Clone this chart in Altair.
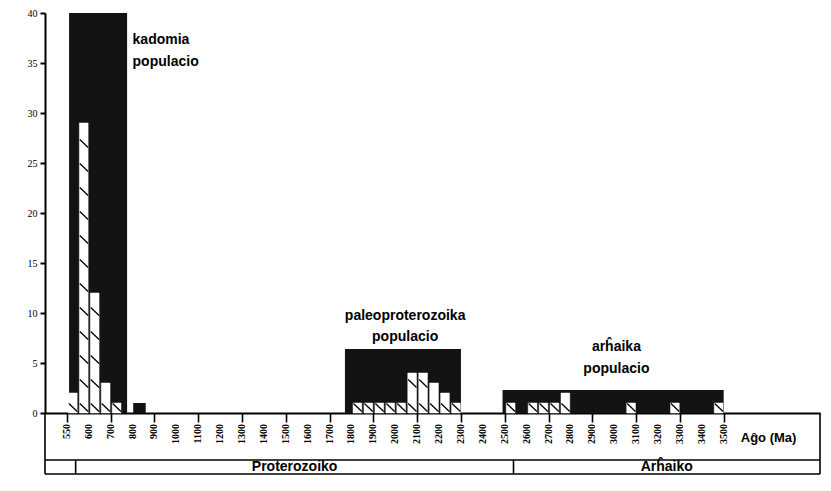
import altair as alt
import pandas as pd

# ---------------- data ----------------
tick_labels = ["550", "600", "700", "800", "900", "1000", "1100", "1200", "1300",
               "1400", "1500", "1600", "1700", "1800", "1900", "2000", "2100",
               "2200", "2300", "2400", "2500", "2600", "2700", "2800", "2900",
               "3000", "3100", "3200", "3300", "3400", "3500"]

# histogram (white, hatched) bars: bin start (Ma) and count
white_start = [550, 575, 600, 650, 700,
               1800, 1850, 1900, 1950, 2000, 2050, 2100, 2150, 2200, 2250,
               2500, 2600, 2650, 2700, 2750, 3050, 3250, 3450]
white_count = [2, 29, 12, 3, 1,
               1, 1, 1, 1, 1, 4, 4, 3, 2, 1,
               1, 1, 1, 1, 2, 1, 1, 1]

# dark bar
dark_start = [800]
dark_count = [1]

# population envelopes
pop_line1 = ["kadomia", "paleoproterozoika", "arĥaika"]
pop_line2 = ["populacio", "populacio", "populacio"]
pop_from = [555, 1770, 2490]
pop_to = [775, 2300, 3500]
pop_top = [40, 6.4, 2.3]

# geological eras (cell boundaries in Ma)
era_names = ["Proterozoiko", "Arĥaiko"]
era_from = [570, 2540]

axis_title = "Aĝo (Ma)"

# ---------------- helpers ----------------
X_MIN, X_MAX = -1.0, 34.4


def pos(ma):
    """axis position: 550 at 0, 600 at 1, then one unit per 100 Ma"""
    return (ma - 550) / 50 if ma < 600 else (ma - 500) / 100


env = pd.DataFrame({
    "x0": [pos(a) for a in pop_from],
    "x1": [pos(b) for b in pop_to],
    "top": pop_top,
})

bars = pd.DataFrame({
    "x0": [pos(s) + 0.07 for s in white_start],
    "x1": [pos(s) + 0.47 for s in white_start],
    "n": white_count,
})

hatch_rows = []
for x0, x1, n in zip(bars["x0"], bars["x1"], bars["n"]):
    h = 0.15
    while h + 0.8 <= n + 0.05:
        hatch_rows.append({"hx0": x0 + 0.02, "hx1": x1, "hy0": h + 0.8, "hy1": h})
        h += 2.4
hatch = pd.DataFrame(hatch_rows)

dark = pd.DataFrame({
    "x0": [pos(s) + 0.03 for s in dark_start],
    "x1": [pos(s) + 0.6 for s in dark_start],
    "n": dark_count,
})

ticks_df = pd.DataFrame({"label": tick_labels, "x": list(range(len(tick_labels)))})

xscale = alt.Scale(domain=[X_MIN, X_MAX], nice=False, zero=False)
yscale = alt.Scale(domain=[0, 40], nice=False, zero=True)

x_axis = alt.Axis(values=[i * 0.5 for i in range(0, 61)], labels=False,
                  tickColor="black", tickWidth=1.6, tickSize=9,
                  domainColor="black", domainWidth=2.2, grid=False)
y_axis = alt.Axis(values=list(range(0, 41, 5)), labelFont="Liberation Serif",
                  labelFontSize=10, labelColor="black", tickColor="black",
                  tickWidth=2, tickSize=5, domainColor="black", domainWidth=2,
                  labelPadding=3, grid=False)

envelopes = alt.Chart(env).mark_rect(color="#131313").encode(
    x=alt.X("x0:Q", scale=xscale, axis=x_axis, title=None),
    x2="x1:Q",
    y=alt.Y("top:Q", scale=yscale, axis=y_axis, title=None),
    y2=alt.datum(0),
)

white = alt.Chart(bars).mark_rect(fill="white", stroke="white", strokeWidth=0.5).encode(
    x=alt.X("x0:Q", scale=xscale),
    x2="x1:Q",
    y=alt.Y("n:Q", scale=yscale),
    y2=alt.datum(0),
)

hatch_layer = alt.Chart(hatch).mark_rule(color="black", strokeWidth=1.3).encode(
    x=alt.X("hx0:Q", scale=xscale),
    x2="hx1:Q",
    y=alt.Y("hy0:Q", scale=yscale),
    y2="hy1:Q",
)

dark_layer = alt.Chart(dark).mark_rect(color="#111111").encode(
    x=alt.X("x0:Q", scale=xscale),
    x2="x1:Q",
    y=alt.Y("n:Q", scale=yscale),
    y2=alt.datum(0),
)

# rotated tick labels of the age axis
tick_text = alt.Chart(ticks_df).mark_text(
    angle=270, align="right", baseline="middle", font="Liberation Serif",
    fontSize=10, fontWeight="bold", color="black").encode(
    x=alt.X("x:Q", scale=xscale), y=alt.datum(-1.1), text="label:N")

# population labels
lab = pd.DataFrame({
    "text": [pop_line1[0], pop_line2[0], pop_line1[1], pop_line2[1], pop_line1[2], pop_line2[2]],
    "x": [3.0, 3.0, 15.45, 15.45, 25.1, 25.1],
    "y": [37.3, 35.1, 9.7, 7.6, 6.6, 4.4],
    "align": ["left", "left", "center", "center", "center", "center"],
})
lab_left = alt.Chart(lab[lab["align"] == "left"]).mark_text(
    align="left", baseline="middle", font="Liberation Sans", fontSize=14,
    fontWeight="bold", color="black").encode(
    x=alt.X("x:Q", scale=xscale), y=alt.Y("y:Q", scale=yscale), text="text:N")
lab_center = alt.Chart(lab[lab["align"] == "center"]).mark_text(
    align="center", baseline="middle", font="Liberation Sans", fontSize=14,
    fontWeight="bold", color="black").encode(
    x=alt.X("x:Q", scale=xscale), y=alt.Y("y:Q", scale=yscale), text="text:N")

# table of eras below the axis
ROW_TOP, ROW_BOT = -4.7, -6.1
edges = [X_MIN, pos(era_from[0]), pos(era_from[1]), X_MAX]
hlines = pd.DataFrame({"a": [X_MIN, X_MIN], "b": [X_MAX, X_MAX], "y": [ROW_TOP, ROW_BOT]})
vlines = pd.DataFrame({
    "x": edges,
    "y0": [0, ROW_TOP, ROW_TOP, 0],
    "y1": [ROW_BOT, ROW_BOT, ROW_BOT, ROW_BOT],
})
h_layer = alt.Chart(hlines).mark_rule(color="black", strokeWidth=1.6).encode(
    x=alt.X("a:Q", scale=xscale), x2="b:Q", y=alt.Y("y:Q", scale=yscale))
v_layer = alt.Chart(vlines).mark_rule(color="black", strokeWidth=1.6).encode(
    x=alt.X("x:Q", scale=xscale), y=alt.Y("y0:Q", scale=yscale), y2="y1:Q")

era_df = pd.DataFrame({
    "text": era_names,
    "x": [(edges[1] + edges[2]) / 2, (edges[2] + edges[3]) / 2],
    "y": [(ROW_TOP + ROW_BOT) / 2] * 2,
})
era_layer = alt.Chart(era_df).mark_text(
    align="center", baseline="middle", font="Liberation Sans", fontSize=14,
    fontWeight="bold", color="black").encode(
    x=alt.X("x:Q", scale=xscale), y=alt.Y("y:Q", scale=yscale), text="text:N")

title_df = pd.DataFrame({"text": [axis_title], "x": [32.05], "y": [-2.5]})
title_layer = alt.Chart(title_df).mark_text(
    align="center", baseline="middle", font="Liberation Sans", fontSize=13,
    fontWeight="bold", color="black").encode(
    x=alt.X("x:Q", scale=xscale), y=alt.Y("y:Q", scale=yscale), text="text:N")

chart = alt.layer(
    envelopes, white, hatch_layer, dark_layer, tick_text, lab_left, lab_center,
    h_layer, v_layer, era_layer, title_layer,
).properties(
    width=775, height=400,
    autosize=alt.AutoSizeParams(type="none"),
    padding={"left": 37, "top": 5, "right": 1, "bottom": 62},
    background="white",
).configure_view(stroke=None)

chart.save("out.html", embed_options={"renderer": "svg", "actions": False})
